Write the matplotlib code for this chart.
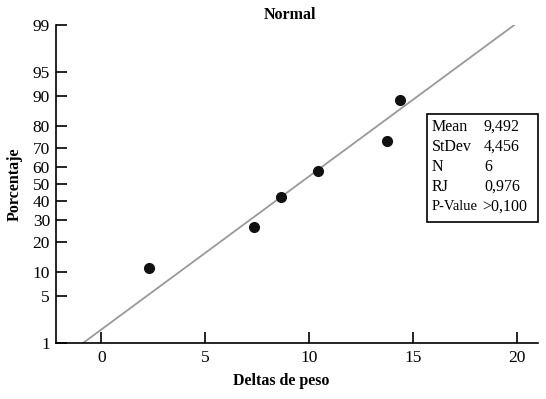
import matplotlib
matplotlib.use("Agg")
import matplotlib.pyplot as plt
from matplotlib.patches import Rectangle
from statistics import NormalDist

# Data
deltas = [2.31, 7.33, 8.63, 10.41, 13.73, 14.36]
percent = [10.9, 26.6, 42.2, 57.8, 73.4, 89.1]
mean, stdev = 9.492, 4.456
ytick_pct = [1, 5, 10, 20, 30, 40, 50, 60, 70, 80, 90, 95, 99]
xticks = [0, 5, 10, 15, 20]
stat_labels = ["Mean", "StDev", "N", "RJ", "P-Value"]
stat_values = ["9,492", "4,456", "6", "0,976", ">0,100"]

nd = NormalDist()
z = lambda p: nd.inv_cdf(p / 100.0)

plt.rcParams['font.family'] = ['Liberation Serif', 'DejaVu Serif']
W, H = 546, 399
fig = plt.figure(figsize=(W / 100, H / 100), dpi=100)
ax = fig.add_axes([55.5 / W, (H - 343) / H, (538 - 55.5) / W, (343 - 25) / H])

# fitted line
lo, hi = 1, 99
ax.plot([mean + stdev * z(lo), mean + stdev * z(hi)], [z(lo), z(hi)],
        color='#999999', lw=1.3, zorder=2)
ax.plot(deltas, [z(p) for p in percent], 'o', color='#111111', ms=7, zorder=3)

ax.set_xlim(-2.2, 21.0)
ax.set_ylim(z(1), z(99))
ax.set_xticks(xticks)
ax.set_xticklabels([str(t) for t in xticks], fontsize=12.5)
ax.set_yticks([z(p) for p in ytick_pct])
ax.set_yticklabels([str(p) for p in ytick_pct], fontsize=12.5)
for s in ['top', 'right']:
    ax.spines[s].set_visible(False)
for s in ['left', 'bottom']:
    ax.spines[s].set_linewidth(1.2)
ax.tick_params(axis='both', direction='in', length=8, width=1.2, pad=5)
ax.tick_params(axis='y', pad=4)

fig.text(290 / W, 1 - 15 / H, "Normal", ha='center', va='center',
         fontsize=11.5, fontweight='bold')
fig.text(281 / W, 1 - 381 / H, "Deltas de peso", ha='center', va='center',
         fontsize=11.5, fontweight='bold')
fig.text(15 / W, 1 - 184 / H, "Porcentaje", ha='center', va='center',
         rotation=90, fontsize=11.5, fontweight='bold')

# stats box
fig.patches.append(Rectangle((427 / W, 1 - 222 / H), (538 - 427) / W, (222 - 114) / H,
                             transform=fig.transFigure, fill=False, lw=1.2,
                             edgecolor='black'))
ys = [127, 147, 167, 187, 207]
vx = [484, 484, 484, 484, 482]
for lab, val, yy, x2 in zip(stat_labels, stat_values, ys, vx):
    fs = 11.5 if lab != "P-Value" else 10.5
    fig.text(432 / W, 1 - yy / H, lab, ha='left', va='center', fontsize=fs)
    fig.text(x2 / W, 1 - yy / H, val, ha='left', va='center', fontsize=11.5)

fig.savefig("out.png", dpi=100)
